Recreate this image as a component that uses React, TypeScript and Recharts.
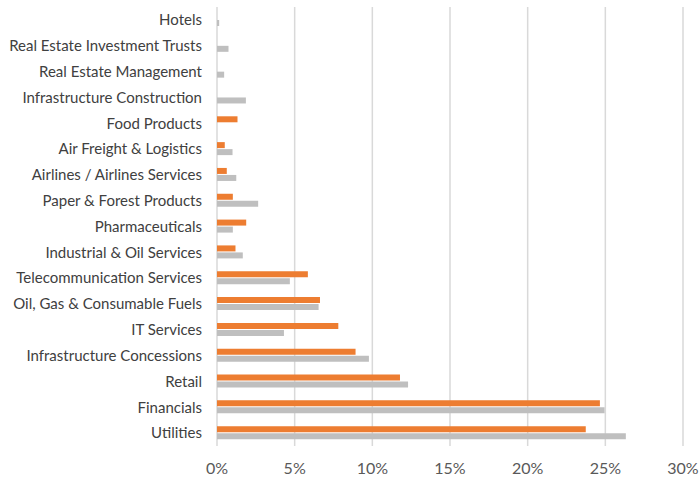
import { BarChart, Bar, XAxis, YAxis, CartesianGrid } from "recharts";

const sectors = [
  "Hotels",
  "Real Estate Investment Trusts",
  "Real Estate Management",
  "Infrastructure Construction",
  "Food Products",
  "Air Freight & Logistics",
  "Airlines / Airlines Services",
  "Paper & Forest Products",
  "Pharmaceuticals",
  "Industrial & Oil Services",
  "Telecommunication Services",
  "Oil, Gas & Consumable Fuels",
  "IT Services",
  "Infrastructure Concessions",
  "Retail",
  "Financials",
  "Utilities",
];

const orangeValues = [0, 0, 0, 0, 1.32, 0.5, 0.63, 1.02, 1.88, 1.19, 5.85, 6.63, 7.81, 8.92, 11.78, 24.65, 23.74];
const grayValues = [0.14, 0.74, 0.46, 1.86, 0, 1.0, 1.24, 2.65, 1.02, 1.66, 4.69, 6.54, 4.31, 9.78, 12.3, 24.95, 26.32];

const xTicks = [0, 5, 10, 15, 20, 25, 30];

const data = sectors.map((name, i) => ({
  name,
  a: orangeValues[i],
  b: grayValues[i],
}));

export default function App() {
  return (
    <div style={{ position: "absolute", left: 0, top: 0 }}>
      <BarChart
        width={699}
        height={478}
        data={data}
        layout="vertical"
        margin={{ top: 7, right: 16, bottom: 0, left: 0 }}
        barSize={6}
        barGap={1}
        style={{ fontFamily: "Lato, 'Open Sans', sans-serif" }}
      >
        <CartesianGrid horizontal={false} stroke="#d9d9d9" strokeWidth={1.5} />
        <XAxis
          type="number"
          domain={[0, 30]}
          ticks={xTicks}
          tickFormatter={(v) => `${v}%`}
          axisLine={false}
          tickLine={false}
          tickSize={0}
          tickMargin={17}
          height={32}
          tick={{ fill: "#595959", fontSize: 16 }}
        />
        <YAxis
          type="category"
          dataKey="name"
          width={217}
          axisLine={false}
          tickLine={false}
          tickSize={0}
          tickMargin={15}
          interval={0}
          tick={{ fill: "#404040", fontSize: 15 }}
        />
        <Bar dataKey="a" fill="#ED7D31" isAnimationActive={false} />
        <Bar dataKey="b" fill="#BFBFBF" isAnimationActive={false} />
      </BarChart>
    </div>
  );
}
